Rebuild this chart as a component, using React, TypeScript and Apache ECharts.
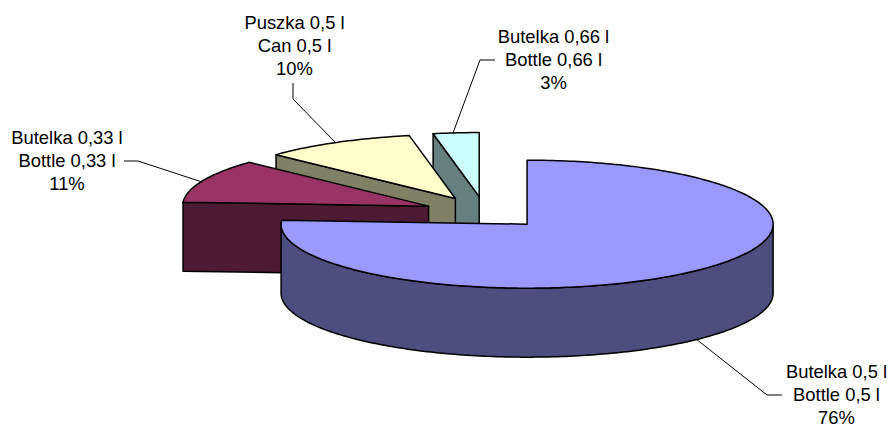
import React, { useEffect, useRef } from "react";
import * as echarts from "echarts";

// Clockwise from twelve o'clock, as in the chart
const polishNames = ["Butelka 0,5 l", "Butelka 0,33 l", "Puszka 0,5 l", "Butelka 0,66 l"];
const englishNames = ["Bottle 0,5 l", "Bottle 0,33 l", "Can 0,5 l", "Bottle 0,66 l"];
const shares = [76, 11, 10, 3];

const topColors = ["#9999FF", "#993366", "#FFFFCC", "#CCFFFF"];
const sideColors = ["#4D4D80", "#4D1A33", "#808066", "#668080"];

const CX = 485;
const CY = 212.5;
const RX = 246;
const RY = 64;
const DEPTH = 69;
const EXPLODE = 0.25;
const STROKE = 1.5;
const FONT = '18.4px "Liberation Sans", Arial, sans-serif';
const LINE_HEIGHT = 23.4;

// Label centre / first-line middle, and the leader line of each slice
const labelAnchors = [
  [836.5, 371],
  [67, 137],
  [294.5, 22],
  [553.5, 36],
];
const leaderLines = [
  [[782, 395], [767, 395], [696, 339]],
  [[124, 161], [138, 161], [202, 182]],
  [[293, 83], [293, 99], [335, 142]],
  [[495, 60], [480, 60], [453, 133]],
];

const rad = (d: number) => (d * Math.PI) / 180;

function renderSlice(_params: any, api: any) {
  const index = api.value(0) as number;
  const total = shares.reduce((a, b) => a + b, 0);
  const before = shares.slice(0, index).reduce((a, b) => a + b, 0);
  const a0 = (before / total) * 360;
  const a1 = ((before + shares[index]) / total) * 360;
  const mid = (a0 + a1) / 2;
  const tx = CX + EXPLODE * RX * Math.sin(rad(mid));
  const ty = CY - EXPLODE * RY * Math.cos(rad(mid));
  const at = (a: number, dy = 0): [number, number] => [
    tx + RX * Math.sin(rad(a)),
    ty - RY * Math.cos(rad(a)) + dy,
  ];
  const arc = (from: number, to: number, dy = 0) => {
    const n = Math.max(2, Math.ceil(Math.abs(to - from)));
    const pts: [number, number][] = [];
    for (let i = 0; i <= n; i++) pts.push(at(from + ((to - from) * i) / n, dy));
    return pts;
  };
  const faceStyle = (fill: string) => ({
    fill,
    stroke: "#000000",
    lineWidth: STROKE,
    lineJoin: "round" as const,
  });
  const children: any[] = [];
  const cutFace = (a: number) => {
    const e = at(a);
    children.push({
      type: "polygon",
      shape: { points: [[tx, ty], e, [e[0], e[1] + DEPTH], [tx, ty + DEPTH]] },
      style: faceStyle(sideColors[index]),
    });
  };
  if (Math.sin(rad(a0)) < -1e-6) cutFace(a0);
  if (Math.sin(rad(a1)) > 1e-6) cutFace(a1);
  const wallFrom = Math.max(a0, 90);
  const wallTo = Math.min(a1, 270);
  if (wallTo > wallFrom) {
    children.push({
      type: "polygon",
      shape: { points: [...arc(wallFrom, wallTo), ...arc(wallTo, wallFrom, DEPTH)] },
      style: faceStyle(sideColors[index]),
    });
  }
  children.push({
    type: "polygon",
    shape: { points: [[tx, ty], ...arc(a0, a1)] },
    style: faceStyle(topColors[index]),
  });
  children.push({
    type: "polyline",
    shape: { points: leaderLines[index] },
    style: { fill: "none", stroke: "#000000", lineWidth: 1 },
  });
  [polishNames[index], englishNames[index], `${shares[index]}%`].forEach((text, line) => {
    children.push({
      type: "text",
      style: {
        text,
        x: labelAnchors[index][0],
        y: labelAnchors[index][1] + line * LINE_HEIGHT,
        align: "center",
        verticalAlign: "middle",
        font: FONT,
        fill: "#000000",
      },
    });
  });
  return { type: "group", children };
}

export default function App() {
  const ref = useRef<HTMLDivElement>(null);
  useEffect(() => {
    const chart = echarts.init(ref.current!, undefined, { renderer: "svg" });
    // Painted back to front: the 0,66 l slice first, the large slice last
    const drawOrder = [3, 2, 1, 0];
    chart.setOption({
      animation: false,
      backgroundColor: "#ffffff",
      series: [
        {
          type: "custom",
          coordinateSystem: "none",
          silent: true,
          renderItem: renderSlice,
          data: drawOrder.map((i) => ({ name: polishNames[i], value: [i, shares[i]] })),
        },
      ],
    });
    return () => chart.dispose();
  }, []);
  return (
    <div
      ref={ref}
      style={{ position: "absolute", left: 0, top: 0, width: 889, height: 427 }}
    />
  );
}
